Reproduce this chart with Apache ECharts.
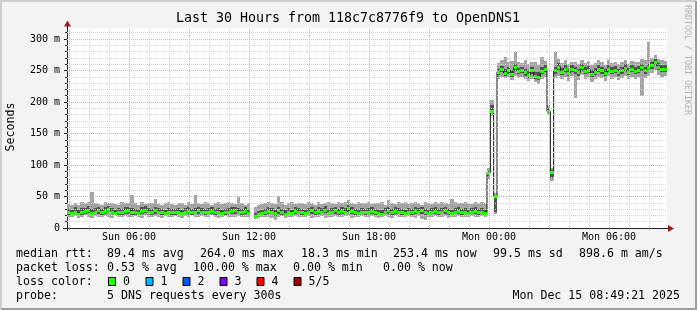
<!DOCTYPE html>
<html><head><meta charset="utf-8">
<script src="https://cdn.jsdelivr.net/npm/echarts@6/dist/echarts.min.js"></script>
<style>html,body{margin:0;padding:0;background:#f3f3f3}#c{width:697px;height:310px}</style>
</head><body><div id="c"></div><script>
// ---- data ----
const START_HOUR = 2.9;        // Sun 02:54, hours since Sun 00:00
const STEP_HOURS = 1 / 6;      // one sample per 10 minutes
const medianMs = [
  25,24,26,23,25,27,29,24,26,28, 25,27,30,26,24,26,25,27,28,26, 25,24,27,29,26,25,28,26,25,24,
  26,25,25,26,24,26,27,25,26,28, 26,25,26,27,25,26,24,25,26,27, 28,26,25,27,24,
  null,
  19,22,24,25, 27,26,24,28,25,23,26,24,27,26, 25,24,26,28,25,27,26,29,24,26,
  28,25,27,26,31,27,25,24,26,25, 26,27,25,24,23,26,28,25,27,26, 25,24,26,25,27,26,28,25,24,26,
  27,25,26,28,25,24,26,27,25,26, 24,26,27,25,26,24,
  88,185,50,
  248,252,246,250,244,255,249,251,247,243,250,242,240,249,252,
  185,89,
  250,256,248,252,246,253,250,247,255,249,251,244,248,252,250,246,253,249,251,247,
  250,254,248,252,249,251,255,250,255,258,264,256,252,253
];
const lowMs = [
  18,17,19,16,18,20,17,16,19,18, 17,19,18,16,20,18,17,19,18,17, 19,18,16,20,18,17,19,18,16,19,
  18,17,19,18,16,19,18,20,17,18, 19,17,18,20,18,16,17,19,18,17, 18,19,17,18,17,
  null,
  15,16,18,17, 18,16,13,17,19,16,18,17,19,18, 17,18,19,16,18,17,19,16,18,17,
  19,18,17,19,20,16,18,17,19,18, 17,19,18,16,17,19,18,16,19,18, 18,17,19,18,16,19,14,12,17,18,
  19,17,18,19,16,18,17,19,18,17, 18,19,17,18,19,17,
  78,178,22,
  236,240,238,239,235,242,238,240,236,233,237,231,228,236,240,
  180,74,
  238,242,236,240,234,241,207,235,243,237,239,232,236,240,238,234,241,237,239,235,
  238,242,236,240,237,239,210,238,242,246,250,243,240,241
];
const q1Ms = [
  21,20,22,19,21,23,24,20,22,23, 21,22,25,22,20,21,21,22,23,21, 21,20,22,24,22,21,23,22,21,20,
  22,21,21,22,20,22,22,21,22,23, 22,21,22,22,21,22,20,21,22,22, 23,22,21,22,20,
  null,
  17,19,20,21, 22,22,19,23,21,19,22,20,22,22, 21,20,22,23,21,22,22,24,20,22,
  23,21,22,22,26,22,21,20,22,21, 22,22,21,20,19,22,23,21,22,22, 21,20,22,21,22,22,23,20,20,22,
  22,21,22,23,21,20,22,22,21,22, 20,22,22,21,22,20,
  83,182,25,
  243,247,241,245,239,249,244,246,242,238,245,237,235,244,247,
  182,80,
  245,250,243,247,241,248,245,242,249,244,246,239,243,247,245,241,248,244,246,242,
  245,249,243,247,244,246,249,245,250,253,258,251,247,248
];
const q3Ms = [
  30,29,33,28,31,32,35,30,31,34, 30,33,35,31,29,32,30,33,34,31, 30,29,33,35,31,30,34,31,30,29,
  31,30,30,32,29,31,33,30,32,34, 31,30,32,33,30,32,29,30,31,33, 34,31,30,33,29,
  null,
  24,27,29,30, 33,31,29,34,30,28,32,29,33,31, 30,29,32,34,30,33,31,35,29,31,
  34,30,33,31,36,33,30,29,32,30, 31,33,30,29,28,32,34,30,33,31, 30,29,32,30,33,31,34,30,29,32,
  33,30,31,34,30,29,32,33,30,31, 29,31,33,30,32,29,
  91,195,52,
  253,257,252,256,250,261,254,256,253,249,255,248,247,255,258,
  190,92,
  256,262,254,258,252,259,256,253,261,255,257,250,254,258,256,252,259,255,257,253,
  256,260,254,258,255,257,261,256,261,264,268,262,258,259
];
const highMs = [
  38,36,40,37,42,39,41,57,40,38, 37,41,39,40,38,36,42,39,40,52, 39,37,41,38,40,39,46,38,37,40,
  41,38,36,40,39,37,42,38,52,40, 38,41,39,37,40,42,38,39,41,40, 38,49,40,37,39,
  null,
  33,36,38,40, 41,39,38,50,42,37,40,41,38,39, 40,38,42,39,37,41,38,40,42,39,
  38,41,39,42,45,40,38,41,39,40, 42,38,40,39,41,37,45,40,38,42, 39,41,38,40,42,39,37,41,40,38,
  41,39,42,40,38,46,41,39,40,42, 40,38,41,39,42,40,
  95,203,56,
  262,266,271,263,265,279,264,262,266,261,264,263,258,271,265,
  194,96,
  280,268,262,266,261,264,263,260,267,262,265,258,262,266,264,259,266,262,264,260,
  263,267,261,265,263,264,268,266,296,270,275,269,266,265
];
const xLabelHours = [6, 12, 18, 24, 30];
const xMajorGridHours = [3, 6, 9, 12, 15, 18, 21, 24, 27, 30];
const xMinorGridHours = [4,5,7,8,10,11,13,14,16,17,19,20,22,23,25,26,28,29,31,32];
const yLabelMs = [0, 50, 100, 150, 200, 250, 300];
const yMinorMs = [10,20,30,40,60,70,80,90,110,120,130,140,160,170,180,190,210,220,230,240,260,270,280,290,310];
const Y_MAX = 317.46;
const X_MIN = 2.9, X_MAX = 32.9;

const titleText = 'Last 30 Hours from 118c7c8776f9 to OpenDNS1';
const rttLegend = ['median rtt:', '89.4 ms avg', '264.0 ms max', '18.3 ms min', '253.4 ms now', '99.5 ms sd', '898.6 m am/s'];
const lossLegend = ['packet loss:', '0.53 % avg', '100.00 % max', '0.00 % min', '0.00 % now'];
const lossColorLabels = ['0', '1', '2', '3', '4', '5/5'];
const lossColors = ['#26ff00', '#00b8ff', '#0059ff', '#7e00ff', '#ff0000', '#a10000'];
const probeLegend = ['probe:', '5 DNS requests every 300s'];
const dateText = 'Mon Dec 15 08:49:21 2025';

// ---- styles / layout ----
const FONT = '"DejaVu Sans Mono", monospace';
const SMOKE_LIGHT = '#a4a4a4', SMOKE_DARK = '#535353', GREEN = lossColors[0];
const rttX = [16, 107, 200, 301, 393, 493, 579];
const lossX = [16, 107, 193, 293, 383];
const boxX = [108, 145.5, 182.5, 219.5, 256.5, 293.5];

const smokeData = [], greenData = [], medLine = [];
medianMs.forEach((m, k) => {
  const t = START_HOUR + k * STEP_HOURS;
  if (m == null) { medLine.push([t, '-']); return; }
  smokeData.push([t, lowMs[k], q1Ms[k], m, q3Ms[k], highMs[k]]);
  greenData.push([t, m]);
  medLine.push([t, m], [t + STEP_HOURS, m]);
});

function smokeItem(params, api) {
  const t = api.value(0);
  const xa = Math.round(api.coord([t, 0])[0]);
  const xb = Math.round(api.coord([t + STEP_HOURS, 0])[0]);
  const y = i => Math.round(api.coord([t, api.value(i)])[1]);
  const yLo = y(1), yQ1 = y(2), yQ3 = y(4), yHi = y(5);
  return { type: 'group', children: [
    { type: 'rect', shape: { x: xa, y: yHi, width: xb - xa, height: Math.max(1, yLo - yHi) }, style: { fill: SMOKE_LIGHT } },
    { type: 'rect', shape: { x: xa, y: yQ3, width: xb - xa, height: Math.max(1, yQ1 - yQ3) }, style: { fill: SMOKE_DARK } }
  ]};
}
function greenItem(params, api) {
  const t = api.value(0);
  const p = api.coord([t, api.value(1)]);
  const xb = Math.round(api.coord([t + STEP_HOURS, api.value(1)])[0]);
  const xa = Math.round(p[0]);
  return { type: 'rect', shape: { x: xa, y: Math.round(p[1]) - 1, width: xb - xa, height: 3 }, style: { fill: GREEN } };
}
const pad = n => (n < 10 ? '0' : '') + n;
const minorStyle = { color: '#d2d2d2', width: 1, type: [1, 1] };
const majorStyle = { color: '#eda3a3', width: 1, type: [1, 1] };

const gridLines = [].concat(
  xMinorGridHours.map(h => ({ xAxis: h, lineStyle: minorStyle })),
  yMinorMs.map(v => ({ yAxis: v, lineStyle: minorStyle })),
  xMajorGridHours.map(h => ({ xAxis: h, lineStyle: majorStyle })),
  yLabelMs.filter(v => v > 0).map(v => ({ yAxis: v, lineStyle: majorStyle }))
);

function txt(x, y, text, opts) {
  return Object.assign({ type: 'text', x: x, y: y, silent: true,
    style: Object.assign({ text: text, font: '11.6px ' + FONT, fill: '#000', align: 'left', verticalAlign: 'middle' }, opts || {}) });
}
const graphics = [
  { type: 'polyline', shape: { points: [[1, 309], [1, 1], [696, 1]] }, style: { stroke: '#cfcfcf', lineWidth: 2, fill: null }, silent: true },
  { type: 'polyline', shape: { points: [[1, 309], [696, 309], [696, 1]] }, style: { stroke: '#9e9e9e', lineWidth: 2, fill: null }, silent: true },
  { type: 'line', shape: { x1: 67.5, y1: 231, x2: 67.5, y2: 25 }, style: { stroke: '#222', lineWidth: 1 }, silent: true },
  { type: 'line', shape: { x1: 63, y1: 228.5, x2: 669, y2: 228.5 }, style: { stroke: '#222', lineWidth: 1 }, silent: true },
  { type: 'polygon', shape: { points: [[64, 26.5], [71, 26.5], [67.5, 20.5]] }, style: { fill: '#9b1c1c' }, silent: true },
  { type: 'polygon', shape: { points: [[668, 225], [668, 232], [674, 228.5]] }, style: { fill: '#9b1c1c' }, silent: true },
  txt(348, 19, titleText, { font: '13.3px ' + FONT, align: 'center' }),
  { type: 'text', x: 11, y: 127, rotation: Math.PI / 2, silent: true,
    style: { text: 'Seconds', font: '11.6px ' + FONT, fill: '#000', align: 'center', verticalAlign: 'middle' } },
  { type: 'text', x: 687.5, y: 60, rotation: -Math.PI / 2, silent: true,
    style: { text: 'RRDTOOL / TOBI OETIKER', font: '8.3px ' + FONT, fill: '#b4b4b4', align: 'center', verticalAlign: 'middle' } }
];
rttLegend.forEach((s, i) => graphics.push(txt(rttX[i], 254, s)));
lossLegend.forEach((s, i) => graphics.push(txt(lossX[i], 268, s)));
graphics.push(txt(16, 282, 'loss color:'));
lossColorLabels.forEach((s, i) => {
  graphics.push({ type: 'rect', shape: { x: boxX[i] + 0.5, y: 277.5, width: 7, height: 8 }, style: { fill: lossColors[i], stroke: '#000', lineWidth: 1 }, silent: true });
  graphics.push(txt(boxX[i] + 15, 282, s));
});
graphics.push(txt(16, 296, probeLegend[0]));
graphics.push(txt(107, 296, probeLegend[1]));
graphics.push(txt(680, 296, dateText, { align: 'right' }));

const chart = echarts.init(document.getElementById('c'), null, { renderer: 'canvas', width: 697, height: 310 });
chart.setOption({
  animation: false,
  backgroundColor: '#f3f3f3',
  grid: { left: 67, right: 30, top: 28, bottom: 82, show: true, backgroundColor: '#ffffff', borderWidth: 0 },
  xAxis: [{
    type: 'value', min: X_MIN, max: X_MAX,
    axisLine: { show: false }, splitLine: { show: false },
    axisTick: { show: true, customValues: xMajorGridHours.concat(xMinorGridHours), length: 2, lineStyle: { color: '#d07070' } },
    axisLabel: { customValues: xLabelHours, margin: 4, fontFamily: FONT, fontSize: 10, color: '#000',
      formatter: h => (h < 24 ? 'Sun ' : 'Mon ') + pad(h % 24) + ':00' }
  }],
  yAxis: [{
    type: 'value', min: 0, max: Y_MAX,
    axisLine: { show: false }, splitLine: { show: false },
    axisTick: { show: true, customValues: yLabelMs, length: 3, lineStyle: { color: '#222' } },
    axisLabel: { customValues: yLabelMs, margin: 7, fontFamily: FONT, fontSize: 10, color: '#000',
      formatter: v => (v === 0 ? '0' : v + ' m') }
  }, {
    type: 'value', min: 0, max: Y_MAX, position: 'left',
    axisLine: { show: false }, splitLine: { show: false }, axisLabel: { show: false },
    axisTick: { show: true, customValues: yMinorMs, length: 2, lineStyle: { color: '#222' } }
  }],
  series: [
    { type: 'line', data: [], z: 1, silent: true,
      markLine: { silent: true, symbol: ['none', 'none'], animation: false, label: { show: false }, emphasis: { disabled: true }, data: gridLines } },
    { type: 'custom', name: 'smoke', data: smokeData, renderItem: smokeItem, encode: { x: 0, y: [1, 5] }, z: 2, silent: true },
    { type: 'line', name: 'median', data: medLine, showSymbol: false, symbol: 'none', z: 3, silent: true,
      lineStyle: { color: '#111', width: 1 }, connectNulls: false },
    { type: 'custom', name: 'loss 0', data: greenData, renderItem: greenItem, encode: { x: 0, y: 1 }, z: 4, silent: true }
  ],
  graphic: graphics
});
</script></body></html>
